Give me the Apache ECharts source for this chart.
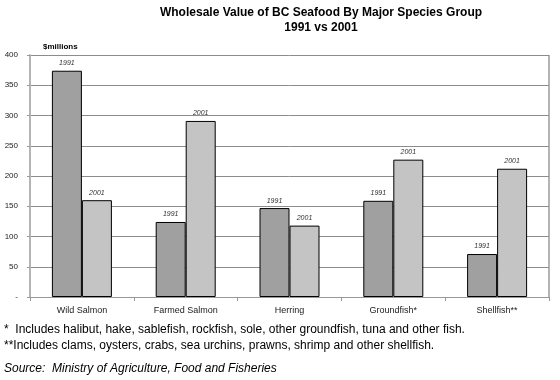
<!DOCTYPE html>
<html><head><meta charset="utf-8">
<script src="https://cdn.jsdelivr.net/npm/echarts@6/dist/echarts.min.js"></script>
<style>html,body{margin:0;padding:0;background:#fff}#c{width:560px;height:380px}</style>
</head><body><div id="c"></div>
<script>
const categories = ['Wild Salmon', 'Farmed Salmon', 'Herring', 'Groundfish*', 'Shellfish**'];
const values1991 = [374, 124, 147, 159, 71];
const values2001 = [160, 291, 118, 227, 212];
const yTicks = [0, 50, 100, 150, 200, 250, 300, 350, 400];

const FONT = 'Arial, "Liberation Sans", sans-serif';
const chart = echarts.init(document.getElementById('c'), null, {renderer: 'canvas'});
const labelStyle = (txt) => ({
  show: true, position: 'top', distance: 4, formatter: txt,
  fontFamily: FONT, fontSize: 7, fontStyle: 'italic', color: '#333'
});
chart.setOption({
  animation: false,
  backgroundColor: '#fff',
  title: {
    text: 'Wholesale Value of BC Seafood By Major Species Group\n1991 vs 2001',
    left: 321, top: 5, padding: 0, textAlign: 'center',
    textStyle: {fontFamily: FONT, fontSize: 12, fontWeight: 'bold', color: '#000', lineHeight: 15}
  },
  grid: {left: 30, right: 11, top: 55, bottom: 83, show: true, borderColor: '#b0b0b0', borderWidth: 0},
  xAxis: {
    type: 'category', data: categories,
    axisLine: {show: true, lineStyle: {color: '#999', width: 1}},
    axisTick: {show: true, length: 4, lineStyle: {color: '#999'}},
    axisLabel: {fontFamily: FONT, fontSize: 9, color: '#222', margin: 9}
  },
  yAxis: {
    type: 'value', min: 0, max: 400, interval: 50,
    axisLine: {show: true, lineStyle: {color: '#b4b4b4', width: 2}},
    axisTick: {show: true, length: 3, lineStyle: {color: '#999'}},
    axisLabel: {fontFamily: FONT, fontSize: 8, color: '#222', margin: 12,
      formatter: v => yTicks.indexOf(v) === 0 ? '-' : String(v)},
    splitLine: {show: true, lineStyle: {color: '#8c8c8c', width: 1}}
  },
  graphic: [
    {type: 'line', shape: {x1: 549, y1: 55, x2: 549, y2: 297}, style: {stroke: '#b4b4b4', lineWidth: 2}, silent: true},
    {type: 'text', left: 43, top: 43, style: {text: '$millions', font: 'bold 8px ' + FONT, fill: '#000'}},
    {type: 'text', left: 4, top: 324, style: {text: '*  Includes halibut, hake, sablefish, rockfish, sole, other groundfish, tuna and other fish.', font: '12px ' + FONT, fill: '#000'}},
    {type: 'text', left: 4, top: 340, style: {text: '**Includes clams, oysters, crabs, sea urchins, prawns, shrimp and other shellfish.', font: '12px ' + FONT, fill: '#000'}},
    {type: 'text', left: 4, top: 363, style: {text: 'Source:  Ministry of Agriculture, Food and Fisheries', font: 'italic 12px ' + FONT, fill: '#000'}}
  ],
  series: [
    {name: '1991', type: 'bar', data: values1991, barWidth: 30, barGap: '0%',
     itemStyle: {color: '#a0a0a0', borderColor: '#000', borderWidth: 1}, label: labelStyle('1991')},
    {name: '2001', type: 'bar', data: values2001, barWidth: 30, barGap: '0%',
     itemStyle: {color: '#c4c4c4', borderColor: '#000', borderWidth: 1}, label: labelStyle('2001')}
  ]
});
</script></body></html>
